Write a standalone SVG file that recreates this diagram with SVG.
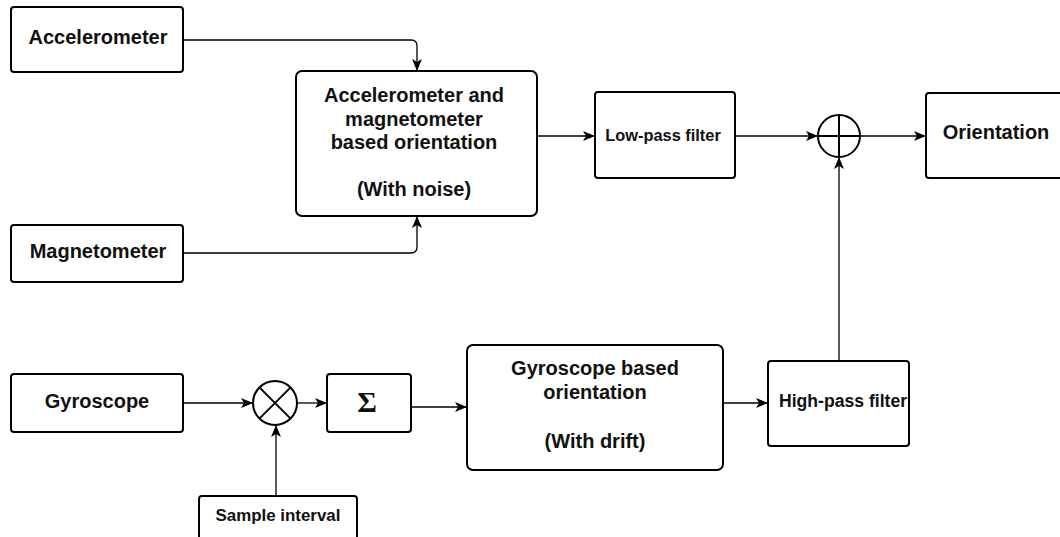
<svg xmlns="http://www.w3.org/2000/svg" width="1060" height="537" viewBox="0 0 1060 537">
  <style>
    .box { fill: #ffffff; stroke: #000000; stroke-width: 2; }
    .op { fill: #ffffff; stroke: #000000; stroke-width: 2; }
    .wire { fill: none; stroke: #000000; stroke-width: 1.3; }
    .lbl { font-family: "Liberation Sans", Arial, Helvetica, sans-serif; font-weight: bold; font-size: 20px; fill: #111111; text-anchor: middle; }
  </style>
  <defs>
    <marker id="arrow" viewBox="0 0 12 10" refX="11" refY="5" markerWidth="12" markerHeight="10" markerUnits="userSpaceOnUse" orient="auto">
      <path d="M0,0 L12,5 L0,10 L3,5 Z" fill="#000000"/>
    </marker>
  </defs>
  <rect width="1060" height="537" fill="#ffffff"/>

  <!-- connectors -->
  <g id="connectors">
    <path class="wire" d="M183,40 H411 Q417,40 417,46 V70" marker-end="url(#arrow)"/>
    <path class="wire" d="M183,253 H411 Q417,253 417,247 V217" marker-end="url(#arrow)"/>
    <path class="wire" d="M537,136 H594" marker-end="url(#arrow)"/>
    <path class="wire" d="M735,136 H817" marker-end="url(#arrow)"/>
    <path class="wire" d="M860,136 H925" marker-end="url(#arrow)"/>
    <path class="wire" d="M183,403 H252" marker-end="url(#arrow)"/>
    <path class="wire" d="M297,403 H326" marker-end="url(#arrow)"/>
    <path class="wire" d="M276,496 V426" marker-end="url(#arrow)"/>
    <path class="wire" d="M411,407 H466" marker-end="url(#arrow)"/>
    <path class="wire" d="M723,403 H767" marker-end="url(#arrow)"/>
    <path class="wire" d="M839,361 V158" marker-end="url(#arrow)"/>
  </g>

  <!-- sensors -->
  <g id="accelerometer">
    <rect class="box" x="11" y="7" width="172" height="65" rx="3"/>
    <text class="lbl" x="98" y="44">Accelerometer</text>
  </g>
  <g id="magnetometer">
    <rect class="box" x="11" y="225" width="172" height="57" rx="3"/>
    <text class="lbl" x="98" y="258">Magnetometer</text>
  </g>
  <g id="gyroscope">
    <rect class="box" x="11" y="374" width="172" height="58" rx="3"/>
    <text class="lbl" x="97" y="408">Gyroscope</text>
  </g>

  <!-- accelerometer + magnetometer branch -->
  <g id="accmag-orientation">
    <rect class="box" x="296" y="71" width="241" height="145" rx="6"/>
    <text class="lbl" x="414" y="102">Accelerometer and</text>
    <text class="lbl" x="414" y="125.5">magnetometer</text>
    <text class="lbl" x="414" y="149">based orientation</text>
    <text class="lbl" x="414" y="196">(With noise)</text>
  </g>
  <g id="low-pass">
    <rect class="box" x="595" y="92" width="140" height="86" rx="3"/>
    <text class="lbl" x="663" y="141" style="font-size:16.4px">Low-pass filter</text>
  </g>

  <!-- summing junction -->
  <g id="sum">
    <circle class="op" cx="839" cy="136" r="21"/>
    <path class="wire" d="M818,136 H860 M839,115 V157" style="stroke-width:2"/>
  </g>
  <g id="orientation">
    <rect class="box" x="926" y="93" width="150" height="85" rx="3"/>
    <text class="lbl" x="996" y="139">Orientation</text>
  </g>

  <!-- gyroscope branch -->
  <g id="multiply">
    <circle class="op" cx="275" cy="403" r="22"/>
    <path class="wire" d="M259.4,387.4 L290.6,418.6 M290.6,387.4 L259.4,418.6" style="stroke-width:2"/>
  </g>
  <g id="sample-interval">
    <rect class="box" x="199" y="496" width="158" height="60" rx="3"/>
    <text class="lbl" x="278" y="521" style="font-size:16.9px">Sample interval</text>
  </g>
  <g id="integrator">
    <rect class="box" x="327" y="374" width="84" height="58" rx="3"/>
    <text x="367" y="412" text-anchor="middle" font-family="'Liberation Serif', 'Times New Roman', serif" font-weight="bold" font-size="30" fill="#111111">Σ</text>
  </g>
  <g id="gyro-orientation">
    <rect class="box" x="467" y="345" width="256" height="125" rx="6"/>
    <text class="lbl" x="595" y="375">Gyroscope based</text>
    <text class="lbl" x="595" y="399">orientation</text>
    <text class="lbl" x="595" y="448">(With drift)</text>
  </g>
  <g id="high-pass">
    <rect class="box" x="768" y="361" width="141" height="85" rx="3"/>
    <text class="lbl" x="843" y="407" style="font-size:17.6px">High-pass filter</text>
  </g>
</svg>
